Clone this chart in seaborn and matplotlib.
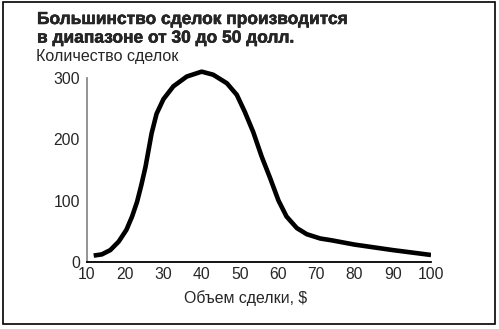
import matplotlib
matplotlib.use("Agg")
import matplotlib.pyplot as plt
import matplotlib.patheffects as pe
import seaborn as sns
import pandas as pd
from matplotlib.patches import Rectangle

# Values
deal_size = [11.75, 13.9, 16.1, 18.3, 20.3, 21.8, 23.1, 24.2, 25.3, 26.9, 28.2, 30,
             32.6, 36.1, 40, 43, 46.6, 49.2, 51.3, 53.5, 55.7, 57.9, 60.1, 62.2,
             64.9, 67.5, 71, 74, 80, 90, 100]
deal_count = [10, 12, 19, 33, 52, 74, 98, 125, 155, 210, 242, 266,
              287, 303, 311, 306, 292, 273, 245, 212, 172, 137, 100, 74,
              55, 45, 38, 35, 28, 19, 11]
x_ticks = [10, 20, 30, 40, 50, 60, 70, 80, 90, 100]
y_ticks = [0, 100, 200, 300]

title = "Большинство сделок производится\nв диапазоне от 30 до 50 долл."
y_title = "Количество сделок"
x_title = "Объем сделки, $"

sns.set_theme(style="white")
plt.rcParams['font.family'] = ['Liberation Sans', 'DejaVu Sans']

df = pd.DataFrame({"size": deal_size, "count": deal_count})

fig = plt.figure(figsize=(4.99, 3.29), dpi=100)
ax = fig.add_axes([87 / 499, 67.3 / 329, 344 / 499, 192.5 / 329])

sns.lineplot(data=df, x="size", y="count", ax=ax, color="black",
             linewidth=3.3, solid_capstyle="butt", solid_joinstyle="round")

ax.set_xlim(10, 100)
ax.set_ylim(0, 315)
ax.set_xticks(x_ticks)
ax.set_yticks(y_ticks)
ax.set_xlabel("")
ax.set_ylabel("")

for s in ["top", "right"]:
    ax.spines[s].set_visible(False)
ax.spines["left"].set_bounds(0, 300)
ax.spines["left"].set_color("#8a8a8a")
ax.spines["left"].set_linewidth(1.3)
ax.spines["bottom"].set_color("black")
ax.spines["bottom"].set_linewidth(1.3)

ax.tick_params(axis="x", direction="in", length=4, width=1, color="black",
               labelsize=11.3, pad=4)
ax.tick_params(axis="y", length=0, labelsize=11.3, pad=5)
# small stub at the top of the y axis
ax.set_yticks([300], minor=True)
ax.tick_params(axis="y", which="minor", direction="in", length=4, width=1,
               color="#8a8a8a", left=True)

fig.text(37 / 499, 1 - 12 / 329, title, fontsize=12.5, fontweight="bold",
         va="top", ha="left", linespacing=1.3,
         path_effects=[pe.withStroke(linewidth=0.35, foreground="black")])
fig.text(36 / 499, 1 - 57 / 329, y_title, fontsize=11.6, va="center", ha="left")
fig.text(246 / 499, 1 - 298 / 329, x_title, fontsize=11.4, va="center", ha="center")

fig.patches.append(Rectangle((3 / 499, 5 / 329), 492 / 499, 322 / 329,
                             transform=fig.transFigure, fill=False,
                             edgecolor="black", linewidth=1.2))

fig.savefig("out.png", dpi=100)
